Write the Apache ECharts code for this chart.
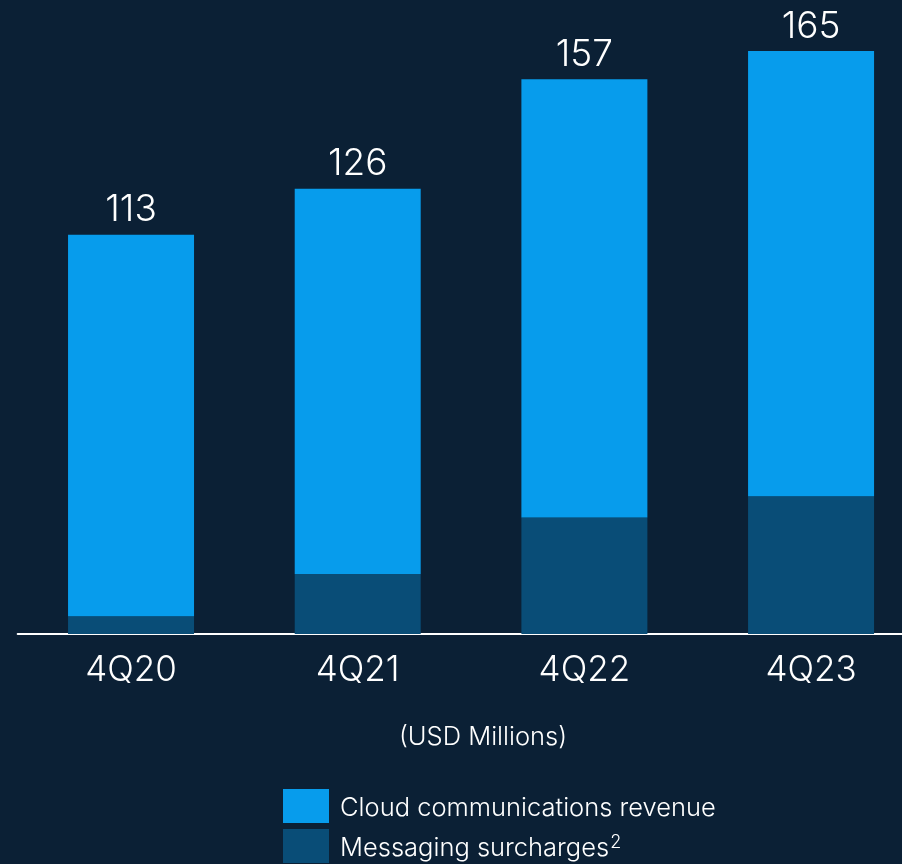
<!DOCTYPE html>
<html>
<head>
<meta charset="utf-8">
<script src="https://cdn.jsdelivr.net/npm/echarts@6/dist/echarts.min.js"></script>
<style>
  html, body { margin: 0; padding: 0; background: #0b2035; }
  #chart { width: 902px; height: 864px; }
</style>
</head>
<body>
<div id="chart"></div>
<script>
// Quarterly revenue split, USD millions
const quarters = ['4Q20', '4Q21', '4Q22', '4Q23'];
const cloudRevenue = [108, 109, 124, 126];
const messagingSurcharges = [5, 17, 33, 39];
const unitNote = '(USD Millions)';

const totals = quarters.map((_, i) => cloudRevenue[i] + messagingSurcharges[i]);

const FONT = 'Inter';
const WEIGHT = 300;
const TEXT = '#ffffff';

const chart = echarts.init(document.getElementById('chart'), null, { renderer: 'canvas' });

chart.setOption({
  backgroundColor: '#0b2035',
  animation: false,
  grid: {
    left: 17.7, top: 33.4, right: -22.4, bottom: 230,
    containLabel: false, outerBoundsMode: 'none'
  },
  xAxis: {
    type: 'category',
    data: quarters,
    axisLine: { show: true, lineStyle: { color: '#ffffff', width: 2 } },
    axisTick: { show: false },
    axisLabel: { color: TEXT, fontFamily: FONT, fontWeight: WEIGHT, fontSize: 35, margin: 19 }
  },
  yAxis: {
    type: 'value',
    min: 0,
    max: 170,
    show: false,
    splitLine: { show: false }
  },
  legend: {
    orient: 'vertical',
    left: 283,
    top: 789,
    padding: 0,
    itemWidth: 46,
    itemHeight: 34,
    itemGap: 6,
    icon: 'rect',
    formatter: name => name === 'Messaging surcharges'
      ? '{base|Messaging surcharges}{sup|2}'
      : '{base|' + name + '}',
    textStyle: {
      color: TEXT, fontFamily: FONT, fontWeight: WEIGHT, fontSize: 25.5,
      padding: [4, 0, 0, 6],
      rich: {
        base: { color: TEXT, fontFamily: FONT, fontWeight: WEIGHT, fontSize: 25.5 },
        sup: { color: TEXT, fontFamily: FONT, fontWeight: WEIGHT, fontSize: 18, verticalAlign: 'top', padding: [0, 0, 10, 1] }
      }
    },
    data: ['Cloud communications revenue', 'Messaging surcharges']
  },
  graphic: [{
    type: 'text',
    x: 483,
    y: 737,
    style: {
      text: unitNote, fill: TEXT, fontFamily: FONT, fontWeight: WEIGHT, fontSize: 25.5,
      align: 'center', verticalAlign: 'middle'
    }
  }],
  series: [
    {
      name: 'Messaging surcharges',
      type: 'bar',
      stack: 'rev',
      barWidth: 126,
      data: messagingSurcharges,
      itemStyle: { color: '#094d77' }
    },
    {
      name: 'Cloud communications revenue',
      type: 'bar',
      stack: 'rev',
      barWidth: 126,
      data: cloudRevenue,
      itemStyle: { color: '#079cec' },
      label: {
        show: true,
        position: 'top',
        distance: 6,
        color: TEXT,
        fontFamily: FONT,
        fontWeight: WEIGHT,
        fontSize: 37,
        formatter: p => String(totals[p.dataIndex])
      }
    }
  ]
});
</script>
</body>
</html>
